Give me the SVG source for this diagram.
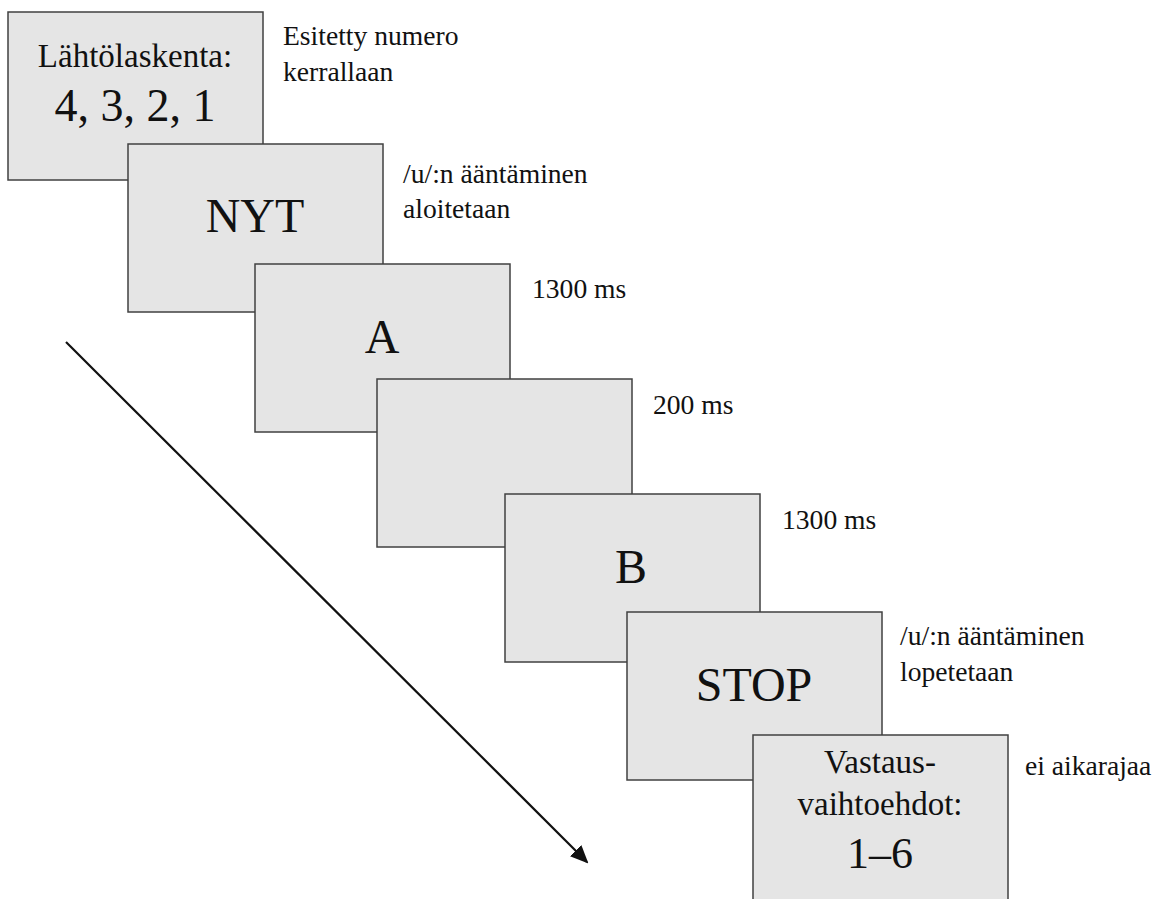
<svg xmlns="http://www.w3.org/2000/svg" width="1163" height="899" viewBox="0 0 1163 899">
<style>
  .box { fill: #e5e5e5; stroke: #404040; stroke-width: 1.5; }
  .c { text-anchor: middle; }
  .lbl { font-size: 27.6px; }
</style>
<defs>
  <marker id="arrow" markerWidth="18" markerHeight="16" refX="16" refY="8" orient="auto" markerUnits="userSpaceOnUse" viewBox="0 0 18 16">
    <path d="M0,0 L18,8 L0,16 Z" fill="#111"/>
  </marker>
</defs>
<rect width="1163" height="899" fill="#ffffff"/>
<g id="connectors">
  <line x1="66" y1="342" x2="587" y2="862" stroke="#111" stroke-width="2.2" marker-end="url(#arrow)"/>
</g>
<g font-family="Liberation Serif, Times New Roman, Tinos, DejaVu Serif, serif" fill="#111">
<g id="node1">
  <rect class="box" x="8" y="12" width="255" height="168"/>
  <text class="c" x="135" y="67" font-size="33">Lähtölaskenta:</text>
  <text class="c" x="135" y="121" font-size="46">4, 3, 2, 1</text>
</g>
<g id="label1" class="lbl">
  <text x="283" y="45">Esitetty numero</text>
  <text x="283" y="81">kerrallaan</text>
</g>
<g id="node2">
  <rect class="box" x="128" y="144" width="255" height="168"/>
  <text class="c" x="255" y="232" font-size="48">NYT</text>
</g>
<g id="label2" class="lbl">
  <text x="403" y="183">/u/:n ääntäminen</text>
  <text x="403" y="218">aloitetaan</text>
</g>
<g id="node3">
  <rect class="box" x="255" y="264" width="255" height="168"/>
  <text class="c" x="382" y="353" font-size="48">A</text>
</g>
<g id="label3" class="lbl">
  <text x="532" y="298">1300 ms</text>
</g>
<g id="node4">
  <rect class="box" x="377" y="379" width="255" height="168"/>
</g>
<g id="label4" class="lbl">
  <text x="653" y="414">200 ms</text>
</g>
<g id="node5">
  <rect class="box" x="505" y="494" width="255" height="168"/>
  <text class="c" x="631" y="583" font-size="48">B</text>
</g>
<g id="label5" class="lbl">
  <text x="782" y="529">1300 ms</text>
</g>
<g id="node6">
  <rect class="box" x="627" y="612" width="255" height="168"/>
  <text class="c" x="754" y="701" font-size="48">STOP</text>
</g>
<g id="label6" class="lbl">
  <text x="900" y="645">/u/:n ääntäminen</text>
  <text x="900" y="681">lopetetaan</text>
</g>
<g id="node7">
  <rect class="box" x="753" y="735" width="255" height="168"/>
  <text class="c" x="880" y="773" font-size="33">Vastaus-</text>
  <text class="c" x="880" y="815" font-size="33">vaihtoehdot:</text>
  <text class="c" x="880" y="868" font-size="44">1–6</text>
</g>
<g id="label7" class="lbl">
  <text x="1025" y="775">ei aikarajaa</text>
</g>
</g>
</svg>
